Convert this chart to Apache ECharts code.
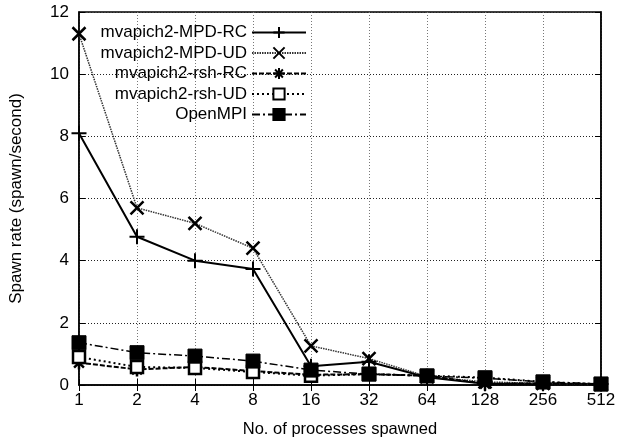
<!DOCTYPE html>
<html>
<head>
<meta charset="utf-8">
<script src="https://cdn.jsdelivr.net/npm/echarts@6/dist/echarts.min.js"></script>
<style>
  html, body { margin: 0; padding: 0; background: #fff; }
  #main { width: 620px; height: 444px; }
</style>
</head>
<body>
<div id="main"></div>
<script>
// processes spawned (x categories)
var procs = ['1', '2', '4', '8', '16', '32', '64', '128', '256', '512'];
var yTicks = [0, 2, 4, 6, 8, 10, 12];

// spawn rate per series
var mpdRC  = [8.1, 4.77, 4.0, 3.73, 0.6, 0.75, 0.25, 0.04, 0.04, 0.03];
var mpdUD  = [11.3, 5.7, 5.2, 4.4, 1.26, 0.85, 0.27, 0.1, 0.05, 0.03];
var rshRC  = [0.72, 0.5, 0.58, 0.45, 0.33, 0.35, 0.3, 0.04, 0.05, 0.03];
var rshUD  = [0.9, 0.58, 0.55, 0.42, 0.3, 0.35, 0.3, 0.24, 0.1, 0.03];
var openMPI = [1.36, 1.04, 0.93, 0.77, 0.48, 0.35, 0.29, 0.22, 0.1, 0.03];

var plusPath = 'path://M0,5L10,5M5,0L5,10';
var crossPath = 'path://M0,0L10,10M10,0L0,10';
var starPath = 'path://M0,5L10,5M5,0L5,10M1.5,1.5L8.5,8.5M8.5,1.5L1.5,8.5';

var chart = echarts.init(document.getElementById('main'));

function mk(name, data, symbol, symbolSize, lineStyle, itemStyle) {
    return {
        name: name,
        type: 'line',
        data: data,
        symbol: symbol,
        symbolSize: symbolSize,
        showAllSymbol: true,
        lineStyle: lineStyle,
        itemStyle: itemStyle,
        animation: false
    };
}

var font = 'Liberation Sans';

var option = {
    animation: false,
    grid: { left: 79, right: 19, top: 12, bottom: 59, show: true, borderColor: '#000', borderWidth: 1.5 },
    legend: {
        orient: 'vertical',
        align: 'right',
        right: 308,
        top: 19,
        itemWidth: 54,
        itemHeight: 14,
        itemGap: 3.5,
        textStyle: { fontFamily: font, fontSize: 17, color: '#000' },
        data: ['mvapich2-MPD-RC', 'mvapich2-MPD-UD', 'mvapich2-rsh-RC', 'mvapich2-rsh-UD', 'OpenMPI']
    },
    xAxis: [{
        type: 'category',
        data: procs,
        boundaryGap: false,
        name: 'No. of processes spawned',
        nameLocation: 'middle',
        nameGap: 36,
        nameTextStyle: { fontFamily: font, fontSize: 16.5, color: '#000' },
        axisLine: { lineStyle: { color: '#000', width: 1.5 } },
        axisTick: { inside: true, length: 6, lineStyle: { color: '#000' } },
        axisLabel: { fontFamily: font, fontSize: 17, color: '#000', margin: 7 },
        splitLine: { show: true, lineStyle: { color: '#777', type: [1, 2], width: 1 } }
    }, {
        type: 'category',
        data: procs,
        boundaryGap: false,
        position: 'top',
        axisLine: { show: false },
        axisTick: { inside: true, length: 6, lineStyle: { color: '#000' } },
        axisLabel: { show: false },
        splitLine: { show: false }
    }],
    yAxis: [{
        type: 'value',
        min: 0,
        max: 12,
        interval: 2,
        name: 'Spawn rate (spawn/second)',
        nameLocation: 'middle',
        nameGap: 54,
        nameTextStyle: { fontFamily: font, fontSize: 17, color: '#000' },
        axisLine: { show: true, lineStyle: { color: '#000', width: 1.5 } },
        axisTick: { show: true, inside: true, length: 6, lineStyle: { color: '#000' } },
        axisLabel: { fontFamily: font, fontSize: 17, color: '#000', margin: 10,
            formatter: function (v) { return yTicks.indexOf(v) >= 0 ? String(v) : ''; } },
        splitLine: { show: true, lineStyle: { color: '#222', type: [1, 2], width: 1 } }
    }, {
        type: 'value',
        min: 0,
        max: 12,
        interval: 2,
        position: 'right',
        axisLine: { show: true, lineStyle: { color: '#000', width: 1.5 } },
        axisTick: { show: true, inside: true, length: 6, lineStyle: { color: '#000' } },
        axisLabel: { show: false },
        splitLine: { show: false }
    }],
    series: [
        mk('mvapich2-MPD-RC', mpdRC, plusPath, 15,
            { color: '#000', width: 2, type: 'solid' },
            { color: '#000', borderColor: '#000', borderWidth: 2 }),
        mk('mvapich2-MPD-UD', mpdUD, crossPath, 13,
            { color: '#333', width: 1.5, type: [1.5, 1] },
            { color: '#000', borderColor: '#000', borderWidth: 2.5 }),
        mk('mvapich2-rsh-RC', rshRC, starPath, 14,
            { color: '#000', width: 2, type: [5, 2] },
            { color: '#000', borderColor: '#000', borderWidth: 2.5 }),
        mk('mvapich2-rsh-UD', rshUD, 'rect', 12,
            { color: '#000', width: 2, type: [2, 3] },
            { color: '#fff', borderColor: '#000', borderWidth: 2.5 }),
        mk('OpenMPI', openMPI, 'rect', 14,
            { color: '#000', width: 1.5, type: [8, 3, 2, 3] },
            { color: '#000', borderColor: '#000', borderWidth: 1 })
    ]
};

chart.setOption(option);
</script>
</body>
</html>
